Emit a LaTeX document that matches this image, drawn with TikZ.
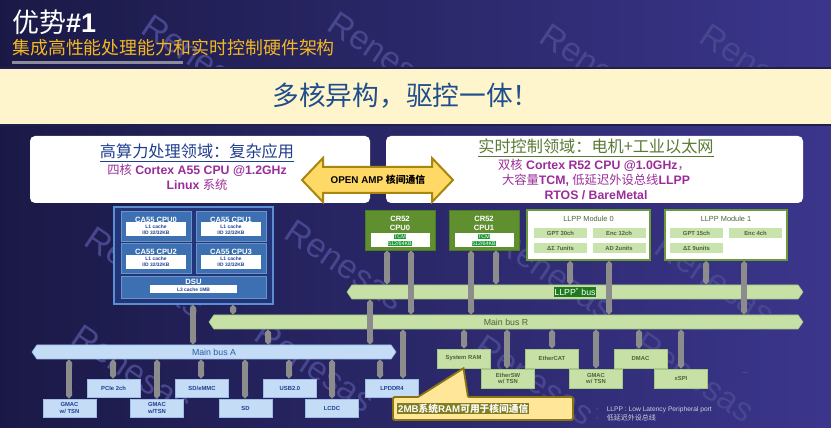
\documentclass[tikz,border=0pt]{standalone}
\usepackage{fontspec}
\setmainfont{Liberation Sans}
\newfontfamily\cjk{Noto Sans CJK SC}
\usetikzlibrary{shapes.symbols,arrows.meta}

\newlength\pxu
\setlength\pxu{0.03cm}
\newcommand\fsz[2]{\fontsize{#1}{#2}\selectfont}
\newcommand\zh[1]{{\cjk\mdseries #1}}
\newcommand\zhb[1]{{\cjk\bfseries #1}}
\newcommand\tcmhl[1]{{\setlength\fboxsep{0.3pt}\colorbox{tcmgreen}{\color{white}#1}}}

\definecolor{bgl}{HTML}{1A1946}
\definecolor{bgr}{HTML}{3B368C}
\definecolor{gold}{HTML}{F4B820}
\definecolor{rulegray}{HTML}{8C8C9A}
\definecolor{cream}{HTML}{FFF5CC}
\definecolor{bandedge}{HTML}{20204A}
\definecolor{bandtext}{HTML}{1F4E8C}
\definecolor{titleblue}{HTML}{1F3F8F}
\definecolor{titlegreen}{HTML}{5A7A34}
\definecolor{purp}{HTML}{9B2D9B}
\definecolor{ampfill}{HTML}{FFD966}
\definecolor{ampline}{HTML}{A8870C}
\definecolor{clusterfill}{HTML}{22347A}
\definecolor{clusterline}{HTML}{5B8FD0}
\definecolor{corefill}{HTML}{3D70B2}
\definecolor{cachetext}{HTML}{1F3F8F}
\definecolor{crfill}{HTML}{5F8F2F}
\definecolor{crline}{HTML}{4B7A20}
\definecolor{tcmgreen}{HTML}{1E9A36}
\definecolor{llppline}{HTML}{6A9A3A}
\definecolor{cellfill}{HTML}{C9E3AC}
\definecolor{celltext}{HTML}{4E6238}
\definecolor{busgreen}{HTML}{C6E0A6}
\definecolor{busgreenline}{HTML}{A6C886}
\definecolor{busblue}{HTML}{C5DCF7}
\definecolor{busblueline}{HTML}{9DBDE6}
\definecolor{bluetext}{HTML}{2A5CA8}
\definecolor{linkgray}{HTML}{8C8C8C}
\definecolor{llppbus}{HTML}{1F7A1F}
\definecolor{notefill}{HTML}{FFE699}
\definecolor{noteline}{HTML}{8A7410}
\definecolor{notehl}{HTML}{807E20}
\definecolor{footgray}{HTML}{D0D0DC}
\definecolor{bulletblue}{HTML}{2E4AA8}
\definecolor{wmgray}{HTML}{48468E}

\tikzset{
  whitebox/.style={fill=white, rounded corners=5\pxu, minimum height=67\pxu, inner sep=0pt},
  boxtitle/.style={font=\cjk\fsz{13.8}{15}, inner sep=0pt},
  boxline/.style={font=\fsz{10.5}{12}\bfseries, text=purp, inner sep=0pt},
  amparrow/.style={fill=ampfill, draw=ampline, line width=2\pxu, line join=miter},
  cluster/.style={fill=clusterfill, draw=clusterline, line width=1.3\pxu, minimum width=159\pxu, minimum height=97\pxu, inner sep=0pt},
  a55core/.style={fill=corefill, draw=corefill!75!white, line width=0.6\pxu, minimum width=70\pxu, minimum height=30\pxu, inner sep=0pt},
  coretitle/.style={text=white, font=\fsz{6.5}{7}\bfseries, inner sep=0pt},
  cachebox/.style={fill=white, minimum width=60\pxu, minimum height=14\pxu, inner sep=0pt, align=center, text=cachetext, font=\fsz{4.2}{5.1}\bfseries},
  crcore/.style={fill=crfill, draw=crline, line width=0.8\pxu, minimum width=70\pxu, minimum height=40\pxu, inner sep=0pt},
  crtitle/.style={text=white, align=center, font=\fsz{6.5}{8}\bfseries, inner sep=0pt},
  tcmbox/.style={fill=white, minimum width=59\pxu, minimum height=14\pxu, inner sep=0pt, align=center, font=\fsz{4.6}{6}},
  llppbox/.style={fill=white, draw=llppline, line width=1.5\pxu, minimum width=123\pxu, minimum height=50\pxu, inner sep=0pt},
  llpptitle/.style={text=celltext, font=\fsz{6.3}{7}, inner sep=0pt},
  cell/.style={fill=cellfill, minimum width=53\pxu, minimum height=10\pxu, inner sep=0pt, text=celltext, font=\fsz{5}{5}\bfseries},
  bus/.style={signal, signal to=west and east, signal pointer angle=110, minimum height=14\pxu, inner sep=0pt, line width=0.6\pxu, font=\fsz{7.5}{8}},
  periA/.style={fill=busblue, draw=busblueline, line width=0.6\pxu, minimum width=53\pxu, minimum height=18\pxu, inner sep=0pt, align=center, text=cachetext, font=\fsz{5}{5.8}\bfseries},
  periR/.style={fill=busgreen, draw=busgreenline, line width=0.6\pxu, minimum width=53\pxu, minimum height=19\pxu, inner sep=0pt, align=center, text=celltext, font=\fsz{5}{5.8}\bfseries},
  link/.style={draw=linkgray, line width=6\pxu, {Triangle Cap[]}-{Triangle Cap[]}},
  notebox/.style={fill=notefill, draw=noteline, line width=1.8\pxu, rounded corners=1.5\pxu, minimum width=180\pxu, minimum height=23\pxu, inner sep=0pt},
  watermark/.style={text=wmgray, rotate=-34, font=\fsz{29}{29}}
}

\begin{document}
\begin{tikzpicture}[x=0.03cm, y=-0.03cm]
  \useasboundingbox (0,0) rectangle (831,428);
  \fill[left color=bgl, right color=bgr] (0,0) rectangle (831,428);

  % watermark
  \foreach \x/\y [count=\k] in {202/60, 388/57, 600/69, 760/69, 145/272, 345/265, 555/275, 715/280,
                                 132/370, 315/367, 535/380, 695/377}
    \node[watermark] (wm\k) at (\x,\y) {Renesas};

  % heading
  \node[anchor=west, text=white, font=\fsz{23}{23}, inner sep=0pt] (title) at (12,22) {\zh{优势}\textbf{\#1}};
  \node[anchor=west, text=gold, font=\cjk\fsz{15.3}{16}, inner sep=0pt] (subtitle) at (12,48) {集成高性能处理能力和实时控制硬件架构};
  \draw[rulegray, line width=3\pxu] (12,63) -- (183,63);

  \fill[cream] (0,68) rectangle (831,125);
  \draw[bandedge, line width=1.5\pxu] (0,68) -- (831,68) (0,125) -- (831,125);
  \node[text=bandtext, font=\cjk\fsz{22.8}{24}, inner sep=0pt] (slogan) at (406,96) {多核异构，驱控一体！};

  % two domains
  \node[whitebox, minimum width=340\pxu] (hpcbox) at (200,169.5) {};
  \node[whitebox, minimum width=417\pxu] (rtbox) at (594.5,169.5) {};
  \node[boxtitle, text=titleblue] (hpctitle) at (197,153) {\underline{高算力处理领域：复杂应用}};
  \node[boxline] (hpcline1) at (197,170) {\zh{四核} Cortex A55 CPU @1.2GHz};
  \node[boxline] (hpcline2) at (197,184.5) {Linux \zh{系统}};
  \node[boxtitle, text=titlegreen] (rttitle) at (596,148) {\underline{实时控制领域：电机+工业以太网}};
  \node[boxline] (rtline1) at (594,165) {\zh{双核} Cortex R52 CPU @1.0GHz\zh{，}};
  \node[boxline] (rtline2) at (596,180) {\zh{大容量}TCM, \zh{低延迟外设总线}LLPP};
  \node[boxline] (rtline3) at (596,195) {RTOS / BareMetal};

  \draw[amparrow] (302,180) -- (323,158) -- (323,167) -- (432,167) -- (432,158) -- (453,180)
    -- (432,202) -- (432,193) -- (323,193) -- (323,202) -- cycle;
  \node[font=\fsz{8.4}{9}\bfseries, inner sep=0pt] (amp) at (378,180) {OPEN AMP \zhb{核间通信}};

  % A55 cluster
  \node[cluster] (a55) at (193.5,255.5) {};
  \foreach \i/\x/\y in {0/156/226, 1/231/226, 2/156/258.5, 3/231/258.5} {
    \node[a55core] (a55c\i) at (\x,\y) {};
    \node[coretitle] (a55t\i) at (\x,\y-6.5) {CA55 CPU\i};
    \node[cachebox] (a55m\i) at (\x,\y+3.5) {L1 cache\\I/D 32/32KB};
  }
  \node[a55core, minimum width=145\pxu, minimum height=22\pxu] (dsu) at (193.5,287) {};
  \node[coretitle] (dsut) at (193.5,281.5) {DSU};
  \node[cachebox, minimum width=87\pxu, minimum height=8\pxu] (dsum) at (193.5,289.5) {L3 cache 1MB};

  % R52 cores
  \foreach \i/\x in {0/400, 1/484} {
    \node[crcore] (cr\i) at (\x,230) {};
    \node[crtitle] (crt\i) at (\x,223.5) {CR52\\CPU\i};
    \node[tcmbox] (crm\i) at (\x,240) {\tcmhl{TCM}\\\tcmhl{512/64KB}};
  }

  % LLPP modules
  \node[llppbox] (mod0) at (588.5,235) {};
  \node[llpptitle] (mod0t) at (588.5,219) {LLPP Module 0};
  \node[cell] (mod0a) at (560.5,233) {GPT 30ch};
  \node[cell] (mod0b) at (619,233) {Enc 12ch};
  \node[cell] (mod0c) at (560.5,248) {ΔΣ 7units};
  \node[cell] (mod0d) at (619,248) {AD 2units};
  \node[llppbox, minimum width=122\pxu] (mod1) at (726,235) {};
  \node[llpptitle] (mod1t) at (726,219) {LLPP Module 1};
  \node[cell] (mod1a) at (696.5,233) {GPT 15ch};
  \node[cell] (mod1b) at (755.5,233) {Enc 4ch};
  \node[cell] (mod1c) at (696.5,248) {ΔΣ 9units};

  % buses
  \node[bus, fill=busgreen, draw=busgreenline, minimum width=456\pxu] (llppbus) at (575,292)
    {{\setlength\fboxsep{0.8pt}\colorbox{llppbus}{\color{white}LLPP\textsuperscript{*} bus}}};
  \node[bus, fill=busgreen, draw=busgreenline, minimum width=594\pxu, text=celltext] (busR) at (506,322) {Main bus R};
  \node[bus, fill=busblue, draw=busblueline, minimum width=364\pxu, text=bluetext] (busA) at (214,352) {Main bus A};

  % peripherals on main bus A
  \node[periA] (gmac1) at (69.5,408) {GMAC\\w/ TSN};
  \node[periA] (pcie) at (113.5,388) {PCIe 2ch};
  \node[periA] (gmac2) at (157,408) {GMAC\\w/TSN};
  \node[periA] (sdemmc) at (202,388) {SD/eMMC};
  \node[periA] (sd) at (245.5,408) {SD};
  \node[periA] (usb) at (290,388) {USB2.0};
  \node[periA] (lcdc) at (332,408) {LCDC};
  \node[periA] (lpddr) at (392,388) {LPDDR4};

  % peripherals on main bus R
  \node[periR] (sysram) at (463.5,358.5) {System RAM};
  \node[periR] (ethsw) at (508,378.5) {EtherSW\\w/ TSN};
  \node[periR] (ecat) at (552,358.5) {EtherCAT};
  \node[periR] (gmac3) at (596,378.5) {GMAC\\w/ TSN};
  \node[periR] (dmac) at (640.5,358.5) {DMAC};
  \node[periR] (xspi) at (681,378.5) {xSPI};
  \node[text=bulletblue!60!gray, font=\fsz{6}{6}\bfseries, inner sep=0pt] (more) at (745,373) {...};

  % links
  \draw[link] (193,0 |- a55.south) -- (193,0 |- busA.north);
  \draw[link] (233,0 |- a55.south) -- (233,0 |- busR.north);
  \draw[link] (268,0 |- busR.south) -- (268,0 |- busA.north);
  \draw[link] (370,0 |- llppbus.south) -- (370,0 |- busA.north);
  \draw[link] (403,0 |- busR.south) -- (403,0 |- lpddr.north);
  \draw[link] (387,0 |- cr0.south) -- (387,0 |- llppbus.north);
  \draw[link] (411,0 |- cr0.south) -- (411,0 |- busR.north);
  \draw[link] (471,0 |- cr1.south) -- (471,0 |- busR.north);
  \draw[link] (496,0 |- cr1.south) -- (496,0 |- llppbus.north);
  \draw[link] (570,0 |- mod0.south) -- (570,0 |- llppbus.north);
  \draw[link] (609,0 |- mod0.south) -- (609,0 |- busR.north);
  \draw[link] (706,0 |- mod1.south) -- (706,0 |- llppbus.north);
  \draw[link] (744,0 |- mod1.south) -- (744,0 |- busR.north);
  \foreach \n/\x in {gmac1/69, pcie/113, gmac2/157, sdemmc/201, sd/245, usb/289, lcdc/332, lpddr/380}
    \draw[link] (\x,0 |- busA.south) -- (\x,0 |- \n.north);
  \foreach \n/\x in {sysram/464, ethsw/507, ecat/552, gmac3/596, dmac/639, xspi/681}
    \draw[link] (\x,0 |- busR.south) -- (\x,0 |- \n.north);

  % callout
  \node[notebox] (ramnote) at (483,408.5) {};
  \fill[notefill] (418,397) -- (sysram.south) -- (468,397) -- (468,399.5) -- (418,399.5) -- cycle;
  \draw[noteline, line width=1.8\pxu, line join=miter] (418,397) -- (sysram.south) -- (468,397);
  \node[anchor=west, fill=notehl, text=white, inner sep=0.8pt, font=\fsz{8.3}{9}\bfseries] (ramtext) at (397,408.5)
    {2MB\zhb{系统}RAM\zhb{可用于核间通信}};

  % footnote
  \node[anchor=west, align=left, text=footgray, font=\fsz{5.7}{7.7}, inner sep=0pt] (foot) at (596,413.5)
    {{\color{bulletblue}\textbullet}\hspace{7pt}LLPP : Low Latency Peripheral port\\
     {\color{bulletblue}\textbullet}\hspace{7pt}\zh{\fsz{6}{7.7}低延迟外设总线}};
\end{tikzpicture}
\end{document}
